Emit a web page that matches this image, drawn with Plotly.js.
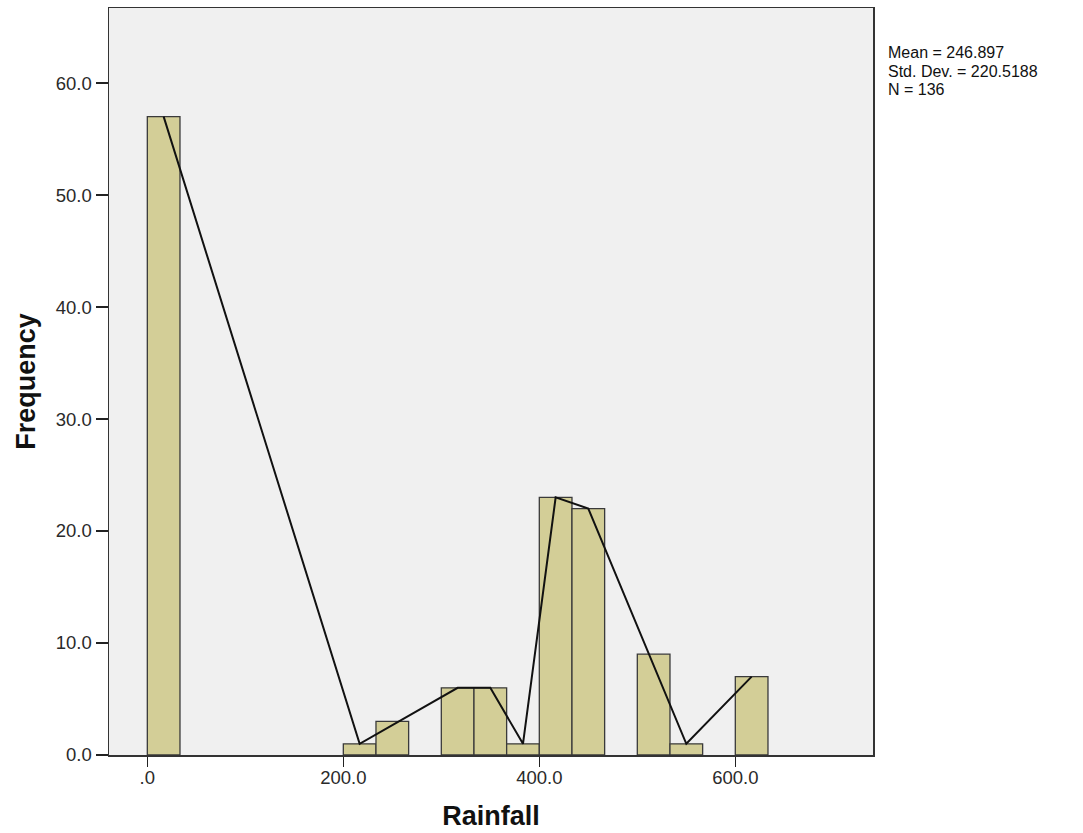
<!DOCTYPE html>
<html>
<head>
<meta charset="utf-8">
<script src="https://cdn.plot.ly/plotly-3.0.1.min.js"></script>
<style>html,body{margin:0;padding:0;background:#fff;}#chart{width:1083px;height:833px;}</style>
</head>
<body>
<div id="chart"></div>
<script>
// Histogram bins (lower edges) and counts
const binWidth = 100 / 3;
const binStarts = [0, 200, 233.33, 300, 333.33, 366.67, 400, 433.33, 500, 533.33, 600];
const counts = [57, 1, 3, 6, 6, 1, 23, 22, 9, 1, 7];
// Bins joined by the drawn polygon line (indices into the bins above)
const polygonBins = [0, 1, 3, 4, 5, 6, 7, 9, 10];
const xTickVals = [0, 200, 400, 600];
const xTickText = ['.0', '200.0', '400.0', '600.0'];
const yTickVals = [0, 10, 20, 30, 40, 50, 60];
const yTickText = ['0.0', '10.0', '20.0', '30.0', '40.0', '50.0', '60.0'];
const statsLines = ['Mean = 246.897', 'Std. Dev. = 220.5188', 'N = 136'];

const centers = binStarts.map(s => s + binWidth / 2);

const bars = {
  type: 'bar',
  x: centers,
  y: counts,
  width: binStarts.map(() => binWidth),
  marker: { color: '#D3CE97', line: { color: '#3a3a3a', width: 1.3 } },
  hoverinfo: 'x+y',
  showlegend: false
};
const poly = {
  type: 'scatter',
  mode: 'lines',
  x: polygonBins.map(i => centers[i]),
  y: polygonBins.map(i => counts[i]),
  line: { color: '#111', width: 2 },
  showlegend: false
};

const plotTop = 8, plotBottom = 755;
const statsY = [52.5, 71, 89.5];
const annotations = statsLines.map((t, i) => ({
  xref: 'paper', yref: 'paper', x: 1.0175,
  y: (plotBottom - statsY[i]) / (plotBottom - plotTop),
  xanchor: 'left', yanchor: 'middle', align: 'left', showarrow: false,
  text: t, font: { size: 16, color: '#111' }
}));

const layout = {
  width: 1083, height: 833,
  margin: { l: 109, r: 210, t: 8, b: 78 },
  paper_bgcolor: '#ffffff',
  plot_bgcolor: '#F0F0F0',
  font: { family: 'Liberation Sans, Arial, sans-serif', color: '#222', size: 14 },
  bargap: 0,
  xaxis: {
    range: [-39.1, 740.5],
    tickvals: xTickVals, ticktext: xTickText,
    ticks: 'outside', ticklen: 10, tickcolor: '#222', tickwidth: 1.3,
    ticklabelstandoff: -5,
    showgrid: false, zeroline: false,
    showline: true, linecolor: '#333', linewidth: 1.5, mirror: true,
    tickfont: { size: 18.5, color: '#2a2a2a' },
    title: { text: '<b>Rainfall</b>', font: { size: 27, color: '#111' }, standoff: 19 }
  },
  yaxis: {
    range: [0, 66.7],
    tickvals: yTickVals, ticktext: yTickText,
    ticks: 'outside', ticklen: 12, tickcolor: '#222', tickwidth: 1.3,
    showgrid: false, zeroline: false,
    showline: true, linecolor: '#333', linewidth: 1.5, mirror: true,
    tickfont: { size: 18.5, color: '#2a2a2a' },
    title: { text: '<b>Frequency</b>', font: { size: 27, color: '#111' }, standoff: 12 }
  },
  annotations: annotations
};

Plotly.newPlot('chart', [bars, poly], layout, { displayModeBar: false, staticPlot: true });
</script>
</body>
</html>
